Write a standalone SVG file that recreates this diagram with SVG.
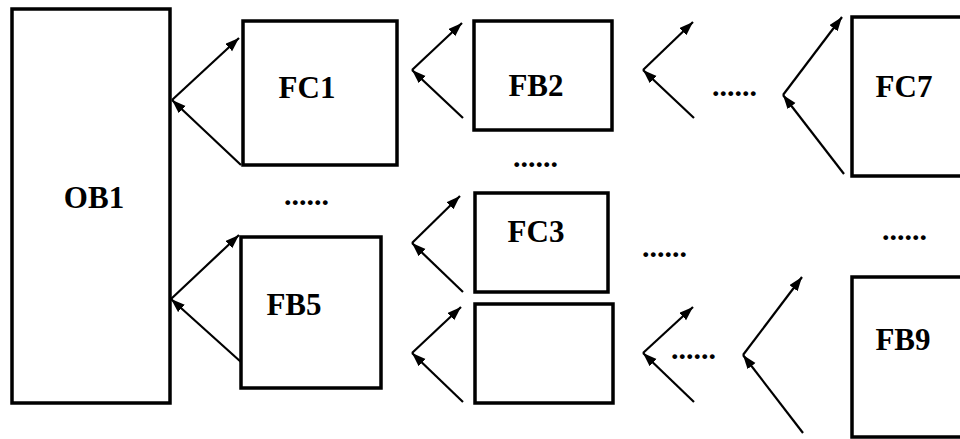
<svg xmlns="http://www.w3.org/2000/svg" width="960" height="439" viewBox="0 0 960 439">
<defs>
<marker id="ah" markerUnits="userSpaceOnUse" markerWidth="16" markerHeight="11" refX="14" refY="5" orient="auto">
<path d="M0,0 L14,5 L0,10 z" fill="#000"/>
</marker>
<style>
.box{fill:#fff;stroke:#000;stroke-width:3.5}
.lbl{font-family:"Liberation Serif","Times New Roman",serif;font-weight:bold;font-size:31px;fill:#000;text-anchor:middle}
.dots{font-family:"Liberation Serif","Times New Roman",serif;font-weight:bold;font-size:30px;fill:#000}
.conn line{stroke:#000;stroke-width:2.2;marker-end:url(#ah)}
</style>
</defs>
<rect width="960" height="439" fill="#fff"/>
<g id="OB1"><rect class="box" x="12" y="9" width="158" height="394"/><text class="lbl" x="94" y="208">OB1</text></g>
<g id="FC1"><rect class="box" x="243" y="21" width="154" height="144"/><text class="lbl" x="307" y="98">FC1</text></g>
<g id="FB5"><rect class="box" x="241" y="237" width="140" height="151"/><text class="lbl" x="294" y="315">FB5</text></g>
<g id="FB2"><rect class="box" x="474" y="21" width="138" height="109"/><text class="lbl" x="536" y="96">FB2</text></g>
<g id="FC3"><rect class="box" x="475" y="193" width="133" height="99"/><text class="lbl" x="536" y="242">FC3</text></g>
<g id="blank"><rect class="box" x="475" y="304" width="138" height="99"/></g>
<g id="FC7"><rect class="box" x="852" y="17" width="120" height="159"/><text class="lbl" x="904" y="97">FC7</text></g>
<g id="FB9"><rect class="box" x="852" y="277" width="120" height="160"/><text class="lbl" x="903" y="350">FB9</text></g>
<g id="ellipses">
<text class="dots" x="284" y="205">......</text>
<text class="dots" x="513" y="167">......</text>
<text class="dots" x="712" y="96">......</text>
<text class="dots" x="642" y="257">......</text>
<text class="dots" x="671" y="359">......</text>
<text class="dots" x="882" y="240">......</text>
</g>
<g id="connectors" class="conn">
<line x1="172" y1="100" x2="239" y2="38"/><line x1="241" y1="165" x2="172" y2="100"/>
<line x1="171" y1="299" x2="239" y2="235"/><line x1="241" y1="362" x2="171" y2="299"/>
<line x1="412" y1="70" x2="462" y2="23"/><line x1="463" y1="118" x2="412" y2="70"/>
<line x1="412" y1="243" x2="460" y2="196"/><line x1="463" y1="292" x2="412" y2="243"/>
<line x1="412" y1="353" x2="461" y2="307"/><line x1="463" y1="402" x2="412" y2="353"/>
<line x1="643" y1="70" x2="693" y2="22"/><line x1="694" y1="118" x2="643" y2="70"/>
<line x1="783" y1="95" x2="842" y2="17"/><line x1="844" y1="174" x2="783" y2="95"/>
<line x1="643" y1="353" x2="693" y2="307"/><line x1="694" y1="402" x2="643" y2="353"/>
<line x1="743" y1="355" x2="802" y2="277"/><line x1="803" y1="433" x2="743" y2="355"/>
</g>
</svg>
